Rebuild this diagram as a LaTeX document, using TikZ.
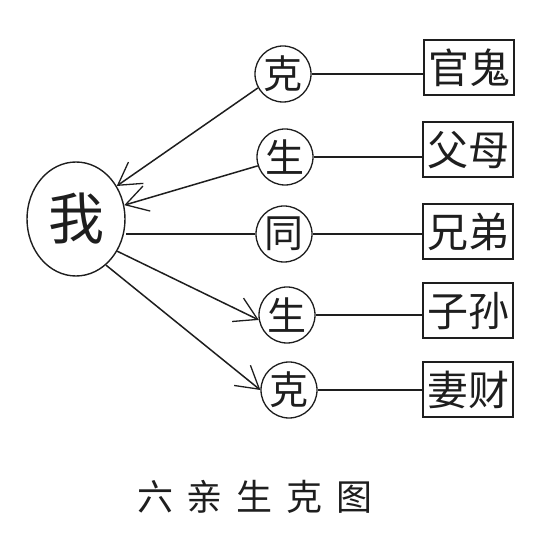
\documentclass[tikz,border=0pt]{standalone}
\usepackage{fontspec}
\newfontfamily\cjk{Noto Sans CJK SC}
\usetikzlibrary{arrows.meta,shapes.geometric}
\definecolor{ink}{HTML}{1E1E1E}
\begin{document}
\begin{tikzpicture}[x=1pt,y=-1pt,
  every node/.style={text=ink},
  selfnode/.style={ellipse, draw=ink, line width=1.4pt, minimum width=98pt, minimum height=114pt, inner sep=0pt, font=\cjk\fontsize{56}{56}\selectfont},
  relnode/.style={circle, draw=ink, line width=1.3pt, minimum size=56pt, inner sep=0pt, font=\cjk\fontsize{39}{39}\selectfont},
  kinbox/.style={rectangle, draw=ink, line width=2pt, minimum width=90pt, minimum height=55pt, inner sep=0pt, font=\cjk\fontsize{41}{41}\selectfont},
  link/.style={draw=ink, line width=1.5pt},
  arr/.style={link, -{Straight Barb[length=22pt,width=26pt,line width=1.3pt]}}
]
\useasboundingbox (0,0) rectangle (560,534);

\node[selfnode] (me) at (76,219) {我};

\node[relnode] (c1) at (283,74) {克};
\node[relnode] (c2) at (285,157) {生};
\node[relnode] (c3) at (284,234) {同};
\node[relnode] (c4) at (287,315) {生};
\node[relnode] (c5) at (289,390) {克};

\node[kinbox] (b1) at (469,68) {官鬼};
\node[kinbox] (b2) at (468,150) {父母};
\node[kinbox] (b3) at (468,232) {兄弟};
\node[kinbox] (b4) at (468,311) {子孙};
\node[kinbox] (b5) at (468,390) {妻财};

\foreach \i in {1,...,5}{
  \draw[link] (c\i.east) -- (c\i.east -| b\i.west);
}

\draw[arr] (c1.209) -- (me.39);
\draw[arr] (c2.198) -- (me.16);
\draw[link] (c3.west) -- (c3.west -| me.east);
\draw[arr] (me.-38) -- (c4.190);
\draw[arr] (me.-57) -- (c5.180);

\node[font=\cjk\fontsize{36}{36}\selectfont] (title) at (255,497) {六\hspace{14pt}亲\hspace{14pt}生\hspace{14pt}克\hspace{14pt}图};
\end{tikzpicture}
\end{document}
